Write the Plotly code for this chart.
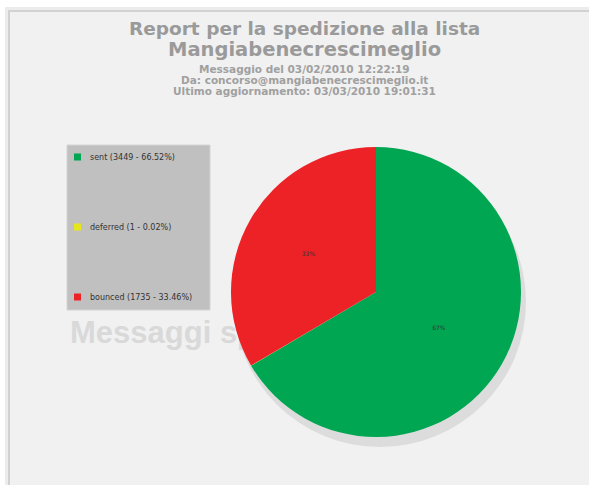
import plotly.graph_objects as go

# ---- data ----
categories = ["sent", "deferred", "bounced"]
counts = [3449, 1, 1735]
colors = ["#00a651", "#e6e61e", "#ec2227"]
title_lines = ["Report per la spedizione alla lista", "Mangiabenecrescimeglio"]
sub_lines = [
    "Messaggio del 03/02/2010 12:22:19",
    "Da: concorso@mangiabenecrescimeglio.it",
    "Ultimo aggiornamento: 03/03/2010 19:01:31",
]
watermark = "Messaggi spediti"

W, H = 589, 485
total = sum(counts)
pcts = [c / total * 100 for c in counts]

fig = go.Figure()

# watermark text (behind pie)
fig.add_trace(go.Scatter(
    x=[70], y=[335], mode="text", text=[watermark],
    textposition="middle right",
    textfont=dict(family="Liberation Sans", size=31, color="#d9d9d9", weight="bold"),
    hoverinfo="skip", showlegend=False,
))

# pie
cx, cy, r = 376, 292, 145
fig.add_trace(go.Pie(
    labels=categories, values=counts, sort=False, direction="clockwise", rotation=0,
    marker=dict(colors=colors, line=dict(width=0)),
    texttemplate="%{percent:.0%}", textposition=["inside", "none", "inside"],
    insidetextorientation="horizontal",
    textfont=dict(size=6, color="#333333", family="DejaVu Sans"),
    domain=dict(x=[(cx - r) / W, (cx + r) / W], y=[1 - (cy + r) / H, 1 - (cy - r) / H]),
    showlegend=False, hoverinfo="label+value+percent",
))

shapes = [
    # frame shadow and panel
    dict(type="rect", x0=5, y0=7, x1=W + 10, y1=H + 10, fillcolor="#ececec", line_width=0, layer="below"),
    dict(type="rect", x0=8, y0=10, x1=W + 10, y1=H + 10, fillcolor="#d2d2d2", line_width=0, layer="below"),
    dict(type="rect", x0=10, y0=12, x1=W + 10, y1=H + 10, fillcolor="#f1f1f1", line_width=0, layer="below"),
    # pie shadow
    dict(type="circle", x0=cx - r + 3, y0=cy - r + 10, x1=cx + r + 5, y1=cy + r + 10,
         fillcolor="#dcdcdc", line_width=0, layer="below"),
    # legend box
    dict(type="rect", x0=67, y0=145, x1=210, y1=310, fillcolor="#c0c0c0",
         line=dict(color="#d4d4d4", width=1), layer="below"),
]

annotations = []
leg_y0, leg_dy = 157, 70
for i, (cat, c, p, col) in enumerate(zip(categories, counts, pcts, colors)):
    yy = leg_y0 + i * leg_dy
    shapes.append(dict(type="rect", x0=74, y0=yy - 3.5, x1=81, y1=yy + 3.5,
                       fillcolor=col, line_width=0, layer="below"))
    annotations.append(dict(x=88, y=yy, xref="x", yref="y", xanchor="left", yanchor="middle",
                            text=f"{cat} ({c} - {p:.2f}%)", showarrow=False,
                            font=dict(family="DejaVu Sans", size=8, color="#333333")))

title_y = [28, 49]
title_sizes = [18.5, 19.5]
for t, yy, fs in zip(title_lines, title_y, title_sizes):
    annotations.append(dict(x=304, y=yy, xref="x", yref="y", xanchor="center", yanchor="middle",
                            text=f"<b>{t}</b>", showarrow=False,
                            font=dict(family="DejaVu Sans", size=fs, color="#9a9a9a")))
sub_y = [69, 80, 91]
for t, yy in zip(sub_lines, sub_y):
    annotations.append(dict(x=304, y=yy, xref="x", yref="y", xanchor="center", yanchor="middle",
                            text=f"<b>{t}</b>", showarrow=False,
                            font=dict(family="DejaVu Sans", size=10.5, color="#a0a0a0")))

fig.update_layout(
    width=W, height=H, margin=dict(l=0, r=0, t=0, b=0),
    paper_bgcolor="white", plot_bgcolor="rgba(0,0,0,0)",
    xaxis=dict(range=[0, W], visible=False, fixedrange=True),
    yaxis=dict(range=[H, 0], visible=False, fixedrange=True),
    shapes=shapes, annotations=annotations, showlegend=False,
)

fig.write_html("out.html", config={"displayModeBar": False},
               post_script="document.body.style.margin='0';document.body.style.overflow='hidden';")
